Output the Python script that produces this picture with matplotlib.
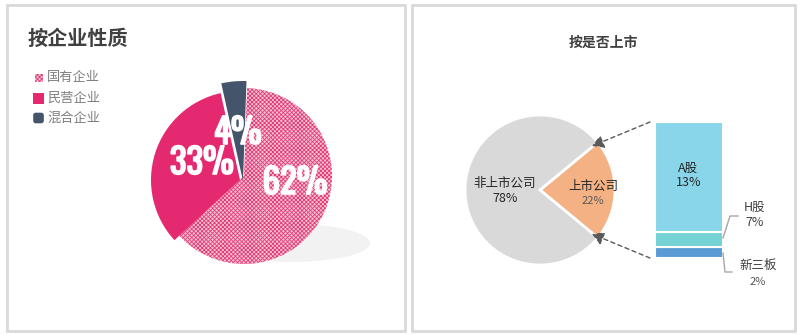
import matplotlib
matplotlib.use("Agg")
import matplotlib.pyplot as plt
from matplotlib.patches import Rectangle, Ellipse, FancyBboxPatch
from matplotlib import font_manager as fm
import matplotlib.patheffects as pe

plt.rcParams['font.family'] = ['Noto Sans CJK SC', 'DejaVu Sans']
plt.rcParams['hatch.linewidth'] = 0.6

# ---- data ----
nature_labels = ['国有企业', '民营企业', '混合企业']
nature_values = [62, 33, 4]
nature_pct = ['62%', '33%', '4%']

listed_labels = ['上市公司', '非上市公司']
listed_values = [22, 78]
listed_pct = ['22%', '78%']

board_labels = ['A股', 'H股', '新三板']
board_pct = ['13%', '7%', '2%']
board_sizes = [11.0, 1.5, 1.1]   # segment heights as drawn

# pick a condensed (preferably bold) font for the big white numbers
cands = {}
for f in fm.fontManager.ttflist:
    n = f.name
    if any(k in n for k in ('Condensed', 'Narrow', 'Impact', 'Oswald', 'Anton')) or \
       str(f.stretch) in ('condensed', 'semi-condensed', 'extra-condensed', 'ultra-condensed'):
        w = f.weight if isinstance(f.weight, int) else (700 if 'bold' in str(f.weight) else 400)
        cands[n] = max(cands.get(n, 0), w)
num_font = None
for pref in ('Impact', 'Oswald', 'Anton', 'Roboto Condensed', 'Liberation Sans Narrow',
             'DejaVu Sans Condensed', 'Open Sans Condensed'):
    if pref in cands:
        num_font = pref
        break
if num_font is None and cands:
    num_font = sorted(cands, key=lambda k: -cands[k])[0]
num_size = 25 if num_font else 22
if num_font is None:
    num_font = 'Roboto'

W, H = 800, 335
fig = plt.figure(figsize=(8, 3.35), dpi=100)
ax = fig.add_axes([0, 0, 1, 1])

def Y(y):
    return H - y

# panel borders
ax.add_patch(Rectangle((7, Y(331)), 398, 326, fill=False, ec='#d9d9d9', lw=2))
ax.add_patch(Rectangle((412, Y(331)), 383, 326, fill=False, ec='#d9d9d9', lw=2))

# ---- left panel ----
ax.text(28, Y(38), '按企业性质', fontsize=14.5, fontweight='bold', color='#404040',
        ha='left', va='center')

ax.add_patch(Ellipse((292, Y(243)), 156, 38, color='#f2f2f2', lw=0, zorder=1))

colors_left = ['#f5c3d4', '#e52970', '#44546a']
wedges, _ = ax.pie(nature_values, startangle=88, counterclock=False,
                   colors=colors_left, radius=88, center=(244, Y(176)),
                   wedgeprops=dict(linewidth=0))
for w in wedges:
    w.set_zorder(2)
wedges[0].set_hatch('xxxxxxxx')
wedges[0].set_edgecolor('#e23c77')
wedges[0].set_linewidth(0)
wedges[1].set_center((240, Y(180)))
wedges[1].set_radius(89)
wedges[2].set_center((243, Y(181)))
wedges[2].set_radius(100)
wedges[2].set_zorder(3)

label_pos = [(295, 183), (202, 163), (238, 133)]
for txt, (x, y) in zip(nature_pct, label_pos):
    ax.text(x, Y(y), txt, fontsize=num_size, fontweight='bold', color='white',
            family=[num_font, 'DejaVu Sans'], fontstretch='condensed',
            ha='center', va='center', zorder=5,
            path_effects=[pe.withStroke(linewidth=1.2, foreground='white')])

# legend
leg_y = [78, 98, 118]
for i, (lab, yy) in enumerate(zip(nature_labels, leg_y)):
    if i == 0:
        p = Rectangle((35, Y(yy) - 4), 8, 8, fc=colors_left[0], ec='#e23c77',
                      lw=0, hatch='xxxxxxxx')
    elif i == 1:
        p = Rectangle((33, Y(yy) - 5.5), 11, 11, fc=colors_left[1], lw=0)
    else:
        p = FancyBboxPatch((34, Y(yy) - 4.5), 9, 9, boxstyle='round,pad=0.8,rounding_size=2.5',
                           fc=colors_left[2], lw=0)
    ax.add_patch(p)
    ax.text(47, Y(yy), lab, fontsize=9.5, color='#7f7f7f', ha='left', va='center')

# ---- right panel ----
ax.text(603, Y(43), '按是否上市', fontsize=10, fontweight='bold', color='#404040',
        ha='center', va='center')

share = listed_values[0] / sum(listed_values) * 360
w2, _ = ax.pie(listed_values, startangle=-share / 2, counterclock=True,
               colors=['#f4b183', '#d9d9d9'], radius=75, center=(540, Y(190)),
               wedgeprops=dict(linewidth=2, edgecolor='white'))

ax.text(505, Y(183), listed_labels[1], fontsize=9, color='#262626', ha='center', va='center')
ax.text(505, Y(198), listed_pct[1], fontsize=9, color='#262626', ha='center', va='center')
ax.text(593, Y(186), listed_labels[0], fontsize=9, color='#262626', ha='center', va='center')
ax.text(593, Y(201), listed_pct[0], fontsize=8, color='#595959', ha='center', va='center')

# stacked bar
bar_colors = ['#89d5ea', '#75d3d6', '#5b9bd5']
scale = 10.0
bottom = Y(258)
for s, c in zip(board_sizes[::-1], bar_colors[::-1]):
    ax.bar(688.5, s * scale, width=68, bottom=bottom, color=c, edgecolor='white',
           linewidth=1.5, zorder=2)
    bottom += s * scale

ax.text(688.5, Y(168), board_labels[0], fontsize=9, color='#262626', ha='center', va='center')
ax.text(688.5, Y(183), board_pct[0], fontsize=9, color='#262626', ha='center', va='center')

ax.text(755, Y(207), board_labels[1], fontsize=9, color='#404040', ha='center', va='center')
ax.text(755, Y(222), board_pct[1], fontsize=9, color='#404040', ha='center', va='center')
ax.text(758, Y(265), board_labels[2], fontsize=9, color='#404040', ha='center', va='center')
ax.text(758, Y(282), board_pct[2], fontsize=8, color='#595959', ha='center', va='center')

ax.plot([723, 730, 738], [Y(238), Y(216), Y(216)], color='#a6a6a6', lw=1)
ax.plot([723, 725, 732], [Y(253), Y(272), Y(272)], color='#a6a6a6', lw=1)

# arrows
for (x0, y0), (x1, y1) in [((650, 122), (592, 146)), ((650, 258), (592, 234))]:
    ax.annotate('', xy=(x1, Y(y1)), xytext=(x0, Y(y0)),
                arrowprops=dict(arrowstyle='-|>,head_length=0.7,head_width=0.4',
                                linestyle=(0, (3, 2.5)), color='#5a5a5a', lw=1,
                                shrinkA=0, shrinkB=0))

ax.set_xlim(0, W)
ax.set_ylim(0, H)
ax.set_aspect('auto')
ax.axis('off')

fig.savefig('out.png', dpi=100)
